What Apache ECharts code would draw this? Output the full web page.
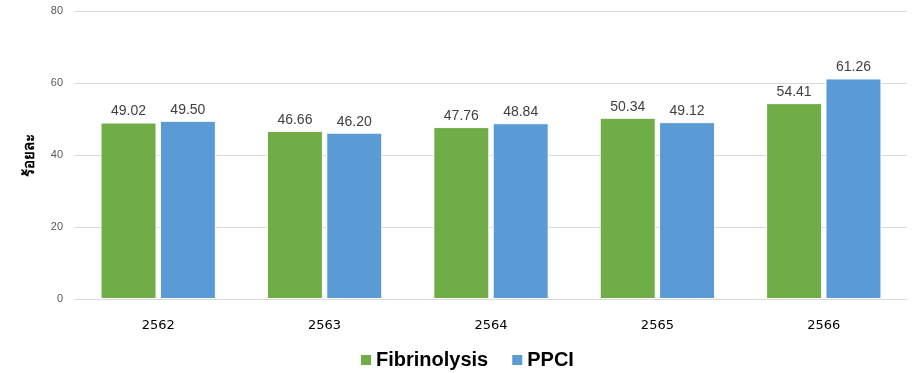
<!DOCTYPE html>
<html>
<head>
<meta charset="utf-8">
<script src="https://cdn.jsdelivr.net/npm/echarts@6/dist/echarts.min.js"></script>
<style>
  html, body { margin: 0; padding: 0; background: #fff; }
  #chart { width: 919px; height: 373px; }
</style>
</head>
<body>
<div id="chart"></div>
<script>
// Yearly share (%) by reperfusion method
const years = ['2562', '2563', '2564', '2565', '2566'];
const fibrinolysis = [49.02, 46.66, 47.76, 50.34, 54.41];
const ppci = [49.50, 46.20, 48.84, 49.12, 61.26];
const yTicks = [0, 20, 40, 60, 80];

const chart = echarts.init(document.getElementById('chart'));

const valueLabel = {
  show: true,
  position: 'top',
  distance: 4,
  color: '#404040',
  fontFamily: 'Liberation Sans, Arial, sans-serif',
  fontSize: 14,
  formatter: p => p.value.toFixed(2)
};

chart.setOption({
  animation: false,
  grid: { left: 75, right: 12, top: 11, bottom: 74 },
  legend: {
    top: 345,
    left: 354,
    padding: 5,
    itemWidth: 12,
    itemHeight: 12,
    itemGap: 22,
    icon: 'rect',
    textStyle: {
      fontFamily: 'Liberation Sans, Arial, sans-serif',
      fontWeight: 'bold',
      fontSize: 20,
      color: '#000',
      padding: [0, 0, 0, -1]
    },
    data: ['Fibrinolysis', 'PPCI']
  },
  xAxis: {
    type: 'category',
    data: years,
    axisLine: { lineStyle: { color: '#d9d9d9', width: 1 } },
    axisTick: { show: false },
    axisLabel: {
      color: '#000',
      fontFamily: 'DejaVu Sans, sans-serif',
      fontSize: 13,
      margin: 20
    }
  },
  yAxis: {
    type: 'value',
    min: yTicks[0],
    max: yTicks[yTicks.length - 1],
    interval: 20,
    name: 'ร้อยละ',
    nameLocation: 'middle',
    nameGap: 38,
    nameRotate: 90,
    nameTextStyle: {
      fontFamily: 'Noto Sans, sans-serif',
      fontWeight: 'bold',
      fontSize: 15,
      color: '#000'
    },
    axisLine: { show: false },
    axisTick: { show: false },
    splitLine: { lineStyle: { color: '#d9d9d9', width: 1 } },
    axisLabel: {
      color: '#595959',
      fontFamily: 'Liberation Sans, Arial, sans-serif',
      fontSize: 11,
      margin: 12
    }
  },
  series: [
    {
      name: 'Fibrinolysis',
      type: 'bar',
      data: fibrinolysis,
      barWidth: 56,
      barGap: '6%',
      itemStyle: { color: '#70ad47', borderColor: '#ffffff', borderWidth: 1 },
      label: valueLabel
    },
    {
      name: 'PPCI',
      type: 'bar',
      data: ppci,
      barWidth: 56,
      itemStyle: { color: '#5b9bd5', borderColor: '#ffffff', borderWidth: 1 },
      label: valueLabel
    }
  ]
});
</script>
</body>
</html>
